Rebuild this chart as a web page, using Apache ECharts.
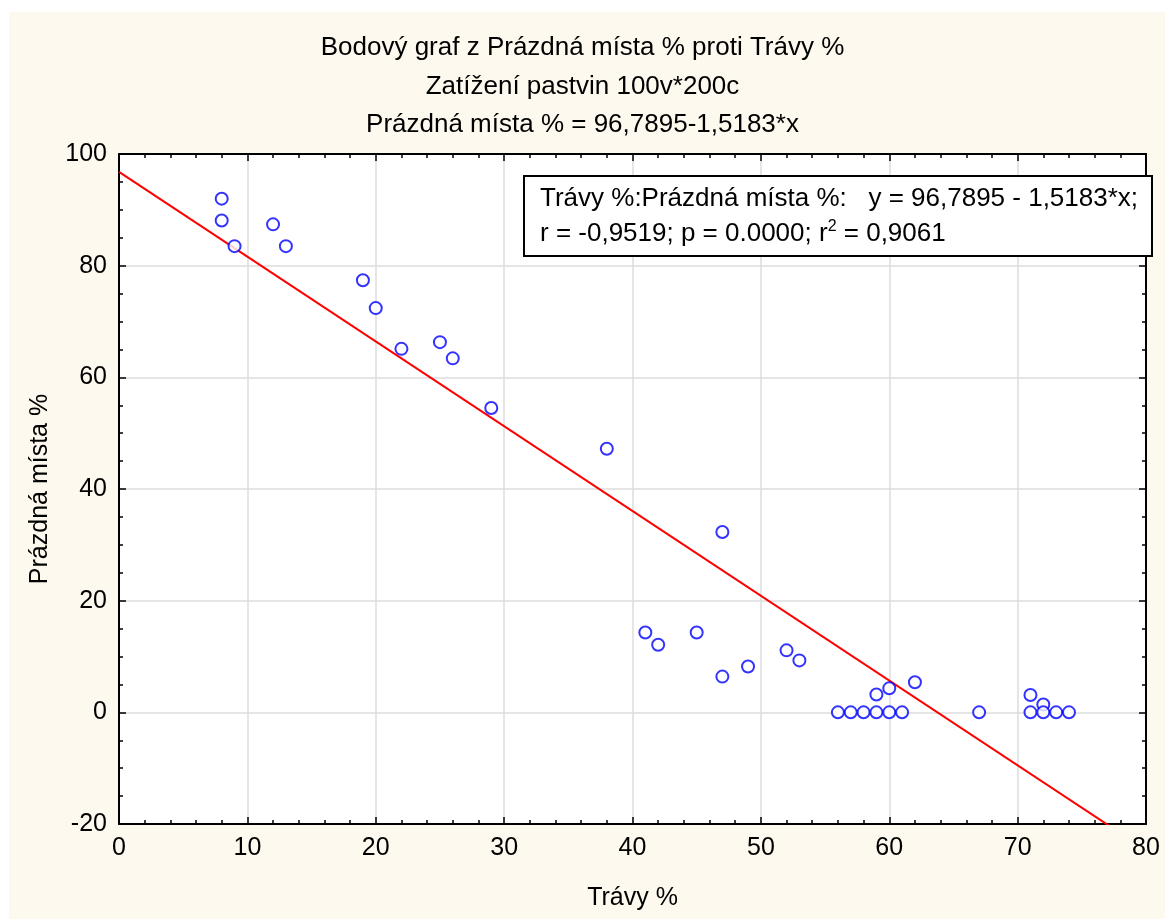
<!DOCTYPE html>
<html>
<head>
<meta charset="utf-8">
<script src="https://cdn.jsdelivr.net/npm/echarts@6/dist/echarts.min.js"></script>
<style>
  html, body { margin: 0; padding: 0; background: #fff; }
  #chart { width: 1165px; height: 919px; }
</style>
</head>
<body>
<div id="chart"></div>
<script>
// Trávy % (x) and Prázdná místa % (y)
const travy = [8, 8, 9, 12, 13, 19, 20, 22, 25, 26, 29, 38, 41, 42, 45, 47, 47, 49, 52, 53,
  56, 57, 58, 59, 59, 60, 60, 61, 62, 67, 71, 71, 72, 72, 73, 74];
const prazdna = [92, 88.1, 83.5, 87.4, 83.5, 77.4, 72.4, 65.1, 66.3, 63.4, 54.5, 47.2, 14.3, 12.1, 14.3, 32.3, 6.4, 8.2, 11.1, 9.3,
  0, 0, 0, 0, 3.2, 0, 4.3, 0, 5.4, 0, 3.1, 0, 1.4, 0, 0, 0];

// regression line from the printed fit
const intercept = 96.7895;
const slope = -1.5183;
const lineX = [0, 80];

const xTicks = [0, 10, 20, 30, 40, 50, 60, 70, 80];
const yTicks = [-20, 0, 20, 40, 60, 80, 100];

const titleLines = [
  'Bodový graf z Prázdná místa % proti Trávy %',
  'Zatížení pastvin 100v*200c',
  'Prázdná místa % = 96,7895-1,5183*x'
];

const points = travy.map((x, i) => [x, prazdna[i]]);
const fitLine = lineX.map(x => [x, intercept + slope * x]);

const FONT = '"Liberation Sans", Arial, sans-serif';
const FS = 26;
const TICK_FS = 25;

const chart = echarts.init(document.getElementById('chart'));

const baseX = {
  type: 'value',
  min: xTicks[0],
  max: xTicks[xTicks.length - 1],
  interval: 10,
  axisLine: { show: true, onZero: false, lineStyle: { color: '#000', width: 2 } },
  axisTick: { show: true, inside: true, length: 7, lineStyle: { color: '#000', width: 1.5 } },
  minorTick: { show: true, splitNumber: 5, length: 4, lineStyle: { color: '#000', width: 1.5 } },
};
const baseY = {
  type: 'value',
  min: yTicks[0],
  max: yTicks[yTicks.length - 1],
  interval: 20,
  axisLine: { show: true, onZero: false, lineStyle: { color: '#000', width: 2 } },
  axisTick: { show: true, inside: true, length: 7, lineStyle: { color: '#000', width: 1.5 } },
  minorTick: { show: true, splitNumber: 4, length: 4, lineStyle: { color: '#000', width: 1.5 } },
};

const option = {
  backgroundColor: '#fff',
  animation: false,
  textStyle: { fontFamily: FONT, color: '#000' },
  graphic: [
    {
      type: 'rect', z: -10, silent: true,
      shape: { x: 9, y: 12, width: 1156, height: 907 },
      style: { fill: '#fef9ee' }
    },
    {
      type: 'rect', z: 100, zlevel: 1,
      shape: { x: 524, y: 176, width: 628, height: 80 },
      style: { fill: '#fff', stroke: '#000', lineWidth: 2 }
    },
    {
      type: 'text', z: 101, zlevel: 1, x: 540, y: 199,
      style: {
        text: 'Trávy %:Prázdná místa %:   y = 96,7895 - 1,5183*x;',
        font: FS + 'px ' + FONT, fill: '#000', verticalAlign: 'middle'
      }
    },
    {
      type: 'text', z: 101, zlevel: 1, x: 540, y: 234,
      style: {
        text: 'r = -0,9519; p = 0.0000; r{sup|2} = 0,9061',
        font: FS + 'px ' + FONT, fill: '#000', verticalAlign: 'middle',
        rich: {
          sup: { fontSize: 16, fontFamily: FONT, verticalAlign: 'top', padding: [0, 0, 14, 0] }
        }
      }
    }
  ],
  title: {
    text: titleLines.join('\n'),
    left: 'center',
    top: 29,
    padding: [0, 0, 0, 8],
    textStyle: { fontFamily: FONT, fontSize: FS, fontWeight: 'normal', color: '#000', lineHeight: 38.5 }
  },
  grid: {
    left: 119, top: 154, right: 19, bottom: 95,
    show: true, backgroundColor: '#fff', borderWidth: 0
  },
  xAxis: [
    Object.assign({}, baseX, {
      position: 'bottom',
      name: 'Trávy %',
      nameLocation: 'middle',
      nameGap: 62,
      nameTextStyle: { fontFamily: FONT, fontSize: TICK_FS, color: '#000' },
      axisLabel: { fontFamily: FONT, fontSize: TICK_FS, color: '#000', margin: 12 },
      splitLine: { show: true, lineStyle: { color: '#dcdcdc', width: 1.5 } }
    }),
    Object.assign({}, baseX, {
      position: 'top',
      axisLabel: { show: false },
      splitLine: { show: false }
    })
  ],
  yAxis: [
    Object.assign({}, baseY, {
      position: 'left',
      name: 'Prázdná místa %',
      nameLocation: 'middle',
      nameGap: 66,
      nameRotate: 90,
      nameTextStyle: { fontFamily: FONT, fontSize: TICK_FS, color: '#000' },
      axisLabel: { fontFamily: FONT, fontSize: TICK_FS, color: '#000', margin: 12 },
      splitLine: { show: true, lineStyle: { color: '#dcdcdc', width: 1.5 } }
    }),
    Object.assign({}, baseY, {
      position: 'right',
      axisLabel: { show: false },
      splitLine: { show: false }
    })
  ],
  series: [
    {
      type: 'line',
      data: fitLine,
      showSymbol: false,
      clip: true,
      lineStyle: { color: '#ff0000', width: 2 },
      z: 3
    },
    {
      type: 'scatter',
      data: points,
      symbol: 'emptyCircle',
      symbolSize: 12,
      itemStyle: { color: '#0000ff', borderColor: '#0000ff', borderWidth: 2.5 },
      z: 4
    }
  ]
};

chart.setOption(option);
</script>
</body>
</html>
